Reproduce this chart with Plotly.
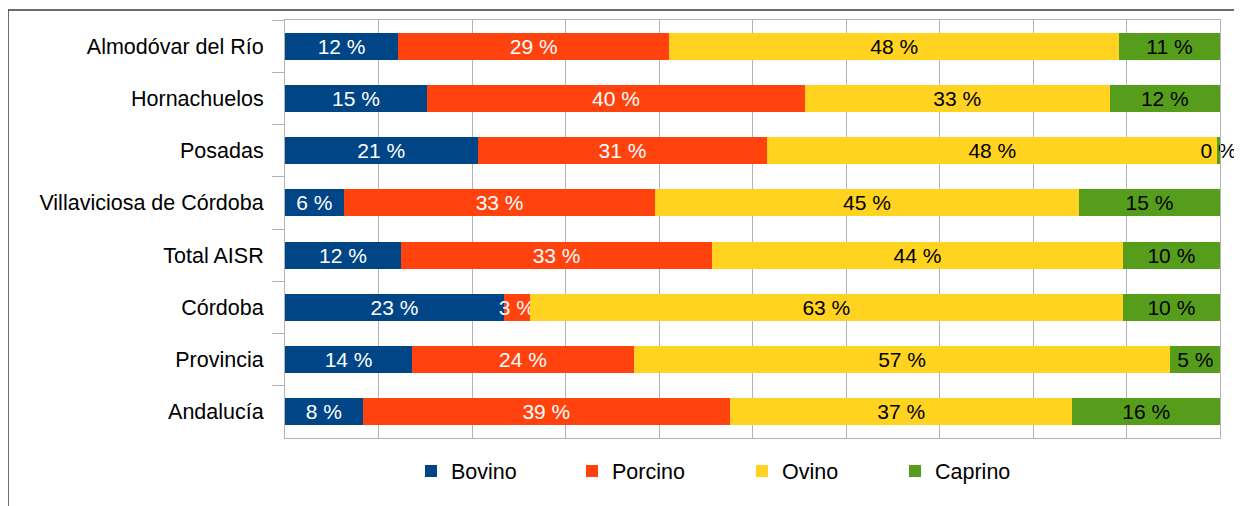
import plotly.graph_objects as go

categories = ["Almodóvar del Río", "Hornachuelos", "Posadas", "Villaviciosa de Córdoba",
              "Total AISR", "Córdoba", "Provincia", "Andalucía"]
bovino = [12.1, 15.2, 20.6, 6.3, 12.4, 23.4, 13.6, 8.3]
porcino = [29.0, 40.4, 31.0, 33.3, 33.3, 2.8, 23.7, 39.3]
ovino = [48.1, 32.6, 48.1, 45.3, 43.9, 63.4, 57.4, 36.6]
caprino = [10.8, 11.8, 0.3, 15.1, 10.4, 10.4, 5.3, 15.8]

series = [
    ("Bovino", bovino, "#004586", "white"),
    ("Porcino", porcino, "#ff420e", "white"),
    ("Ovino", ovino, "#ffd320", "black"),
    ("Caprino", caprino, "#579d1c", "black"),
]

FONT = "Liberation Sans, Arial, sans-serif"
OFF = 8  # page body margin
W, H = 1242, 506
L, T = 285 - OFF, 20 - OFF
R = W - (1220 - OFF)
B = H - (438 - OFF)
pw, ph = W - L - R, H - T - B

def px_x(px):
    return (px - OFF - L) / pw

def px_y(py):
    return 1 - (py - OFF - T) / ph

legend_text_px = [451, 612, 782, 935]

fig = go.Figure()
for i, (name, vals, col, tcol) in enumerate(series):
    fig.add_trace(go.Bar(
        y=categories, x=vals, name=name, orientation="h",
        marker=dict(color=col, line=dict(width=0)),
        texttemplate="%{x:.0f} %", textposition="inside", insidetextanchor="middle",
        textangle=0, textfont=dict(color=tcol, size=21, family=FONT),
        cliponaxis=False, legend="legend" if i == 0 else f"legend{i+1}",
        hoverinfo="skip",
    ))

layout_legends = {}
for i, tx in enumerate(legend_text_px):
    key = "legend" if i == 0 else f"legend{i+1}"
    layout_legends[key] = dict(x=px_x(tx - 40), y=px_y(471), xanchor="left", yanchor="middle",
                               orientation="h", font=dict(size=21.5, family=FONT, color="black"),
                               bgcolor="rgba(0,0,0,0)", borderwidth=0)

fig.update_layout(
    width=W, height=H, margin=dict(l=L, r=R, t=T, b=B, pad=0),
    barmode="stack", bargap=0.48,
    plot_bgcolor="white", paper_bgcolor="white",
    font=dict(family=FONT, size=21.5, color="black"),
    uniformtext=dict(minsize=21, mode="show"),
    showlegend=True,
    xaxis=dict(range=[0, 100], dtick=10, showgrid=True, gridcolor="#b3b3b3", gridwidth=1,
               showticklabels=False, ticks="", zeroline=False,
               showline=True, linecolor="#b3b3b3", linewidth=1, mirror=True, fixedrange=True),
    yaxis=dict(autorange="reversed", tickson="boundaries", ticks="outside", ticklen=12,
               tickcolor="#b3b3b3", tickwidth=1, showline=True, linecolor="#b3b3b3",
               linewidth=1, mirror=True, showgrid=False, ticklabelstandoff=16,
               tickfont=dict(size=21.5, family=FONT, color="black")),
    shapes=[dict(type="rect", xref="paper", yref="paper",
                 x0=px_x(8), x1=px_x(1290),
                 y0=px_y(540), y1=px_y(10),
                 line=dict(color="#3c3c3c", width=1.5), fillcolor="rgba(0,0,0,0)", layer="below")],
    **layout_legends,
)

fig.write_html("out.html")
